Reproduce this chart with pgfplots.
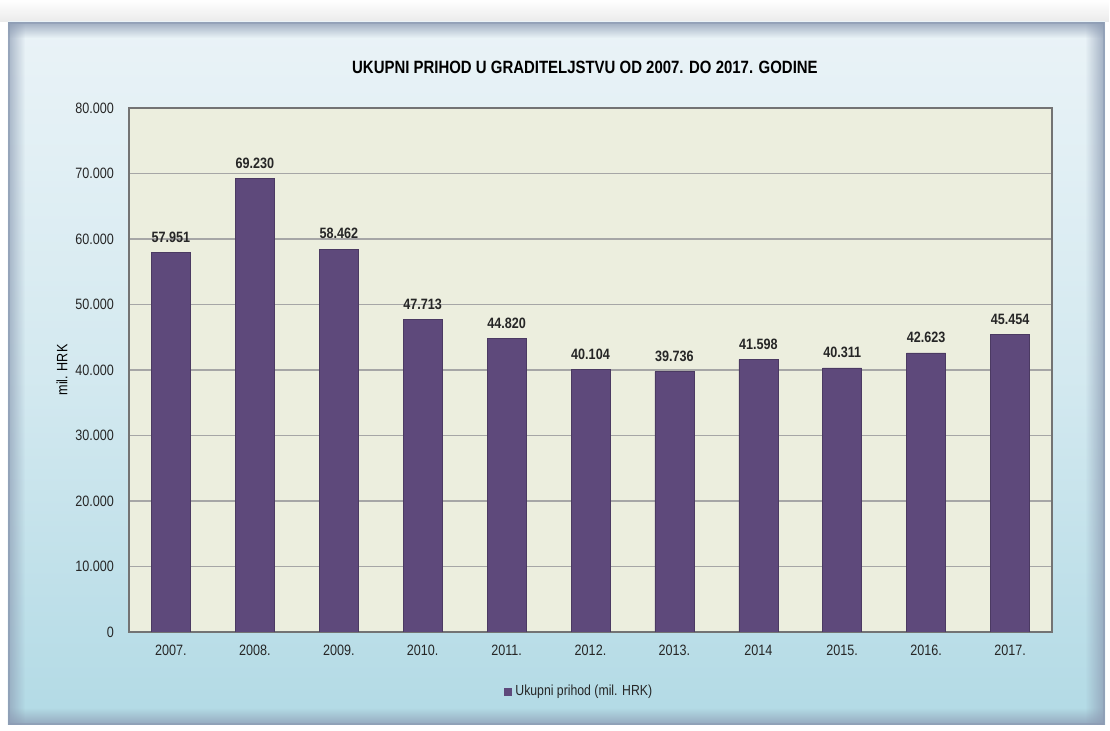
\documentclass[border=0pt]{standalone}
\usepackage{pgfplots}
\pgfplotsset{compat=1.18}
\usetikzlibrary{fadings}
\usepackage{fontspec}
\setmainfont{Liberation Sans}[FakeStretch=0.84]
\definecolor{barc}{HTML}{5E497B}
\definecolor{plotbg}{HTML}{ECEEDE}
\definecolor{frtop}{HTML}{EAF3F7}
\definecolor{frbot}{HTML}{B2DAE5}
\definecolor{frline}{HTML}{8C9BB3}
\tikzfading[name=fadeR, left color=transparent!0, right color=transparent!100]
\tikzfading[name=fadeL, left color=transparent!100, right color=transparent!0]
\tikzfading[name=fadeD, top color=transparent!0, bottom color=transparent!100]
\tikzfading[name=fadeU, top color=transparent!100, bottom color=transparent!0]
\pgfplotstableread{
x y
0 57951
1 69230
2 58462
3 47713
4 44820
5 40104
6 39736
7 41598
8 40311
9 42623
10 45454
}\datatable
\begin{document}
\begin{tikzpicture}
% whole picture area
\fill[white] (-64.5pt,-49.5pt) rectangle (490.5pt,316pt);
\fill[black!8, path fading=fadeU] (-64.5pt,305pt) rectangle (490.5pt,316pt);
% outer frame
\shade[top color=frtop, bottom color=frbot, middle color=frtop!60!frbot] (-60.5pt,-46.5pt) rectangle (488pt,305pt);
\fill[frline, opacity=0.7, path fading=fadeR] (-60.5pt,-46.5pt) rectangle (-52pt,305pt);
\fill[frline, opacity=0.8, path fading=fadeL] (478pt,-46.5pt) rectangle (488pt,305pt);
\fill[frline, opacity=0.8, path fading=fadeD] (-60.5pt,297pt) rectangle (488pt,305pt);
\fill[frline, opacity=0.8, path fading=fadeU] (-60.5pt,-46.5pt) rectangle (488pt,-38pt);
\draw[frline, line width=1pt, opacity=0.6] (-60pt,-46pt) rectangle (487.5pt,304.5pt);
\begin{axis}[
  at={(0,0)}, anchor=south west,
  scale only axis,
  width=461.5pt, height=262pt,
  ymin=0, ymax=80000,
  ytick={0,10000,...,80000},
  xmin=-0.5, xmax=10.5,
  xtick=data,
  xticklabels={2007.,2008.,2009.,2010.,2011.,2012.,2013.,2014,2015.,2016.,2017.},
  ybar, bar width=19.5pt,
  axis background/.style={fill=plotbg},
  axis line style={draw=black!55, line width=0.8pt},
  ymajorgrids, grid style={draw=black!35, line width=0.6pt},
  major tick length=0pt,
  scaled y ticks=false,
  /pgf/number format/.cd, 1000 sep={.}, fixed, assume math mode=true,
  /pgfplots/.cd,
  tick label style={font=\fontsize{7.5}{9}\selectfont, text=black!85},
  yticklabel style={xshift=-4pt},
  xticklabel style={yshift=-3pt},
  nodes near coords,
  every node near coord/.append style={font=\bfseries\fontsize{7.5}{9}\selectfont, text=black!85, yshift=1.5pt, /pgf/number format/assume math mode=true},
  title={UKUPNI PRIHOD U GRADITELJSTVU OD 2007. DO 2017. GODINE},
  title style={font=\bfseries\fontsize{8.9}{10}\selectfont, at={(axis description cs:0.494,1.055)}, anchor=center},
  ylabel={mil. HRK},
  ylabel style={font=\fontsize{7.5}{9}\selectfont, at={(axis description cs:-0.0726,0.5)}, anchor=center},
  legend style={at={(axis description cs:0.4886,-0.1145)}, anchor=center, draw=none, fill=none, font=\fontsize{7.3}{8}\selectfont, text=black!85},
  legend image code/.code={\fill[barc] (0pt,-1.7pt) rectangle (3.5pt,1.8pt);},
]
\addplot[fill=barc, draw=barc!80!black, line width=0.3pt] table[x=x,y=y]{\datatable};
\addlegendentry{Ukupni prihod (mil. HRK)}
\end{axis}
\end{tikzpicture}
\end{document}
